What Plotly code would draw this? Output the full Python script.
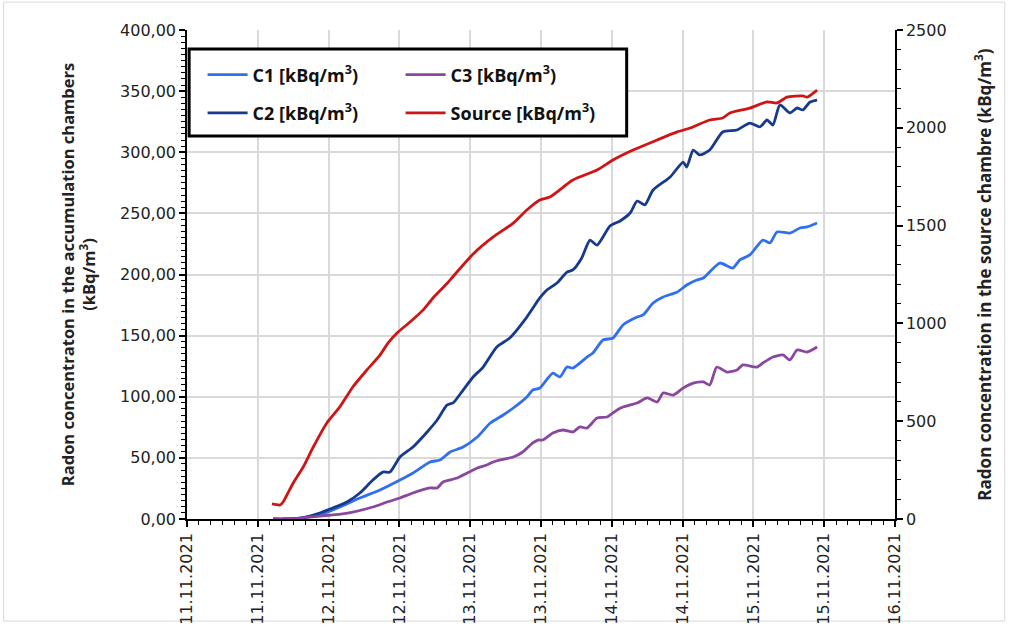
import pandas as pd
import plotly.graph_objects as go

# ---------------- data (hours after 11.11.2021 00:00) ----------------
start = "2021-11-11 00:00"

src_h = [14.4, 15.8, 16.3, 18.0, 19.7, 21.4, 23.7, 25.9, 28.1, 30.5, 32.7, 34.1, 35.6, 37.8,
         40.0, 41.7, 44.1, 45.1, 48.5, 51.9, 55.3, 57.6, 59.8, 61.5, 65.4, 69.5, 72.2, 75.6,
         79.7, 83.1, 85.3, 88.6, 90.8, 92.0, 95.4, 98.3, 100.0, 101.7, 104.4, 105.1, 106.8]
src_v = [77, 72, 87, 184, 266, 368, 491, 573, 675, 762, 838, 900, 951, 1007,
         1068, 1130, 1205, 1240, 1355, 1442, 1513, 1580, 1631, 1646, 1733, 1784, 1835, 1886,
         1938, 1979, 1999, 2040, 2050, 2076, 2101, 2132, 2127, 2157, 2163, 2157, 2193]

c2_h = [14.6, 16.5, 19.2, 22.5, 24.7, 27.1, 29.3, 31.5, 33.2, 34.4, 36.1, 38.3, 40.7, 42.4,
        44.1, 45.1, 46.8, 48.5, 50.2, 52.5, 54.7, 57.6, 59.8, 61.0, 62.7, 64.4, 65.4, 66.9,
        68.3, 69.5, 71.7, 73.4, 75.1, 76.3, 77.6, 79.0, 81.9, 84.1, 84.7, 85.8, 86.9, 88.6,
        90.8, 93.2, 95.4, 97.1, 98.3, 99.3, 100.5, 102.2, 103.4, 104.4, 105.6, 106.8]
c2_v = [0.0, 0.0, 0.8, 4.9, 9.0, 13.9, 21.3, 31.9, 38.4, 38.4, 50.7, 58.9, 71.2, 81.0,
        93.3, 94.9, 105.5, 116.2, 124.3, 140.7, 148.1, 165.2, 180.8, 187.3, 193.0, 202.0, 203.7, 213.5,
        228.2, 224.1, 239.7, 243.8, 250.3, 260.1, 256.9, 269.1, 279.8, 292.0, 287.9, 301.8, 297.8, 301.8,
        316.6, 318.2, 323.9, 320.7, 326.4, 322.3, 338.7, 332.1, 336.2, 334.6, 341.1, 342.7]

c1_h = [14.6, 16.5, 19.2, 22.5, 25.9, 29.3, 32.7, 36.1, 38.3, 41.2, 42.9, 44.6, 46.8, 49.2,
        51.4, 53.6, 55.3, 57.6, 58.6, 59.8, 62.0, 63.2, 64.4, 65.4, 67.8, 68.8, 70.5, 72.2,
        73.9, 76.3, 77.3, 79.0, 80.7, 83.1, 84.7, 86.4, 87.5, 90.3, 92.5, 93.7, 95.4, 97.6,
        98.8, 100.0, 102.2, 103.9, 105.1, 106.8]
c1_v = [0.0, 0.0, 0.8, 3.3, 9.8, 17.2, 23.7, 31.9, 37.6, 46.6, 48.3, 54.8, 58.9, 67.1,
        78.5, 85.1, 90.8, 99.8, 105.5, 107.2, 119.4, 116.2, 124.3, 123.5, 132.5, 135.8, 146.4, 148.1,
        158.7, 165.2, 166.9, 176.7, 181.6, 185.7, 191.4, 195.5, 197.1, 209.4, 205.3, 211.9, 216.0, 228.2,
        225.8, 234.8, 233.9, 238.0, 238.9, 242.1]

c3_h = [14.6, 17.0, 19.2, 24.7, 28.1, 31.5, 33.9, 36.1, 38.3, 41.2, 42.4, 43.4, 45.8, 47.5,
        49.2, 50.8, 51.9, 53.1, 55.3, 56.9, 58.6, 59.5, 60.3, 62.0, 63.7, 65.4, 66.6, 67.8,
        69.5, 71.2, 72.9, 73.9, 76.3, 78.0, 79.7, 80.7, 82.4, 84.1, 85.8, 87.5, 88.6, 89.8,
        91.5, 93.2, 94.2, 96.6, 97.6, 99.3, 101.0, 102.2, 103.4, 105.1, 106.8]
c3_v = [0.0, 0.0, 0.8, 3.3, 5.7, 9.8, 13.9, 17.2, 21.3, 25.4, 25.4, 30.3, 33.5, 37.6,
        41.7, 44.2, 46.6, 48.3, 50.7, 54.8, 62.2, 64.6, 64.6, 70.3, 72.8, 71.2, 75.3, 74.4,
        82.6, 83.4, 89.2, 91.6, 94.9, 99.0, 95.7, 103.1, 101.4, 107.2, 111.2, 112.1, 109.6, 124.3,
        120.2, 121.9, 126.0, 124.3, 127.6, 132.5, 134.2, 130.1, 138.2, 136.6, 140.7]

names = ["<b>C1 [kBq/m<sup>3</sup>)</b>", "<b>C2 [kBq/m<sup>3</sup>)</b>",
         "<b>C3 [kBq/m<sup>3</sup>)</b>", "<b>Source [kBq/m<sup>3</sup>)</b>"]
colors = ["#2f6ff0", "#173a8c", "#8a479e", "#d01414"]

left_title = "<b>Radon concentraton in the accumulation chambers</b><br><b>(kBq/m<sup>3</sup>)</b>"
right_title = "<b>Radon concentration in the source chambre (kBq/m<sup>3</sup>)</b>"


def to_time(hours):
    return pd.Timestamp(start) + pd.to_timedelta(hours, unit="h")


fig = go.Figure()
common = dict(mode="lines", line_shape="spline", hoverinfo="skip")
fig.add_trace(go.Scatter(x=to_time(c1_h), y=c1_v, name=names[0], legend="legend",
                         line=dict(color=colors[0], width=2.8, smoothing=0.6), **common))
fig.add_trace(go.Scatter(x=to_time(c2_h), y=c2_v, name=names[1], legend="legend2",
                         line=dict(color=colors[1], width=2.8, smoothing=0.6), **common))
fig.add_trace(go.Scatter(x=to_time(c3_h), y=c3_v, name=names[2], legend="legend",
                         line=dict(color=colors[2], width=2.8, smoothing=0.6), **common))
fig.add_trace(go.Scatter(x=to_time(src_h), y=src_v, name=names[3], legend="legend2", yaxis="y2",
                         line=dict(color=colors[3], width=2.8, smoothing=0.6), **common))

tick_font = dict(family="DejaVu Sans", size=16, color="#222")
title_font_l = dict(family="Open Sans", size=16.5, color="#222")
title_font_r = dict(family="Open Sans", size=17, color="#222")
legend_font = dict(family="Open Sans", size=18, color="#111")

fig.update_layout(
    width=1011, height=627,
    margin=dict(l=187, r=116, t=30, b=108, autoexpand=False),
    paper_bgcolor="white", plot_bgcolor="white",
    separators=", ",
    showlegend=True,
    xaxis=dict(
        type="date", range=["2021-11-11 00:00", "2021-11-16 00:00"],
        tick0="2021-11-11 00:00", dtick=12 * 3600 * 1000, tickformat="%d.%m.%Y",
        tickangle=-90, tickfont=tick_font,
        ticks="outside", ticklen=6, tickwidth=1.5, tickcolor="black",
        showline=True, linecolor="black", linewidth=1.5,
        showgrid=True, gridcolor="#d9d9d9", gridwidth=1.5,
        minor=dict(dtick=2 * 3600 * 1000, ticks="outside", ticklen=4,
                   tickcolor="black", tickwidth=1.2, showgrid=False),
        zeroline=False, fixedrange=True,
    ),
    yaxis=dict(
        range=[0, 400], dtick=50, tickformat=".2f", tickfont=tick_font,
        ticks="outside", ticklen=6, tickwidth=1.5, tickcolor="black",
        showline=True, linecolor="black", linewidth=1.5,
        showgrid=True, gridcolor="#d9d9d9", gridwidth=1.5,
        minor=dict(dtick=5, ticks="outside", ticklen=4, tickcolor="black",
                   tickwidth=1.2, showgrid=False),
        zeroline=False,
        title=dict(text=left_title, font=title_font_l, standoff=20),
    ),
    yaxis2=dict(
        overlaying="y", side="right", range=[0, 2500], dtick=500, tickformat="d",
        tickfont=tick_font,
        ticks="outside", ticklen=6, tickwidth=1.5, tickcolor="black",
        showline=True, linecolor="black", linewidth=1.5,
        showgrid=False, zeroline=False,
        minor=dict(dtick=100, ticks="outside", ticklen=4, tickcolor="black",
                   tickwidth=1.2, showgrid=False),
        title=dict(text=right_title, font=title_font_r, standoff=33),
    ),
    legend=dict(orientation="h", x=0.022, xanchor="left", y=0.908, yanchor="middle",
                itemwidth=40, entrywidth=143, bgcolor="rgba(0,0,0,0)", borderwidth=0,
                font=legend_font),
    legend2=dict(orientation="h", x=0.022, xanchor="left", y=0.830, yanchor="middle",
                 itemwidth=40, entrywidth=143, bgcolor="rgba(0,0,0,0)", borderwidth=0,
                 font=legend_font),
    shapes=[
        # legend frame
        dict(type="rect", xref="paper", yref="paper", x0=0.003, x1=0.621, y0=0.783, y1=0.961,
             line=dict(color="black", width=3), fillcolor="white", layer="above"),
        # outer image frame
        dict(type="rect", xref="paper", yref="paper", x0=-0.259, x1=1.155, y0=-0.2086, y1=1.057,
             line=dict(color="#d9d9d9", width=1), fillcolor="rgba(0,0,0,0)", layer="below"),
    ],
)

fig.write_html("out.html", config={"displayModeBar": False},
               post_script="document.body.style.margin='0';document.body.style.overflow='hidden';")
